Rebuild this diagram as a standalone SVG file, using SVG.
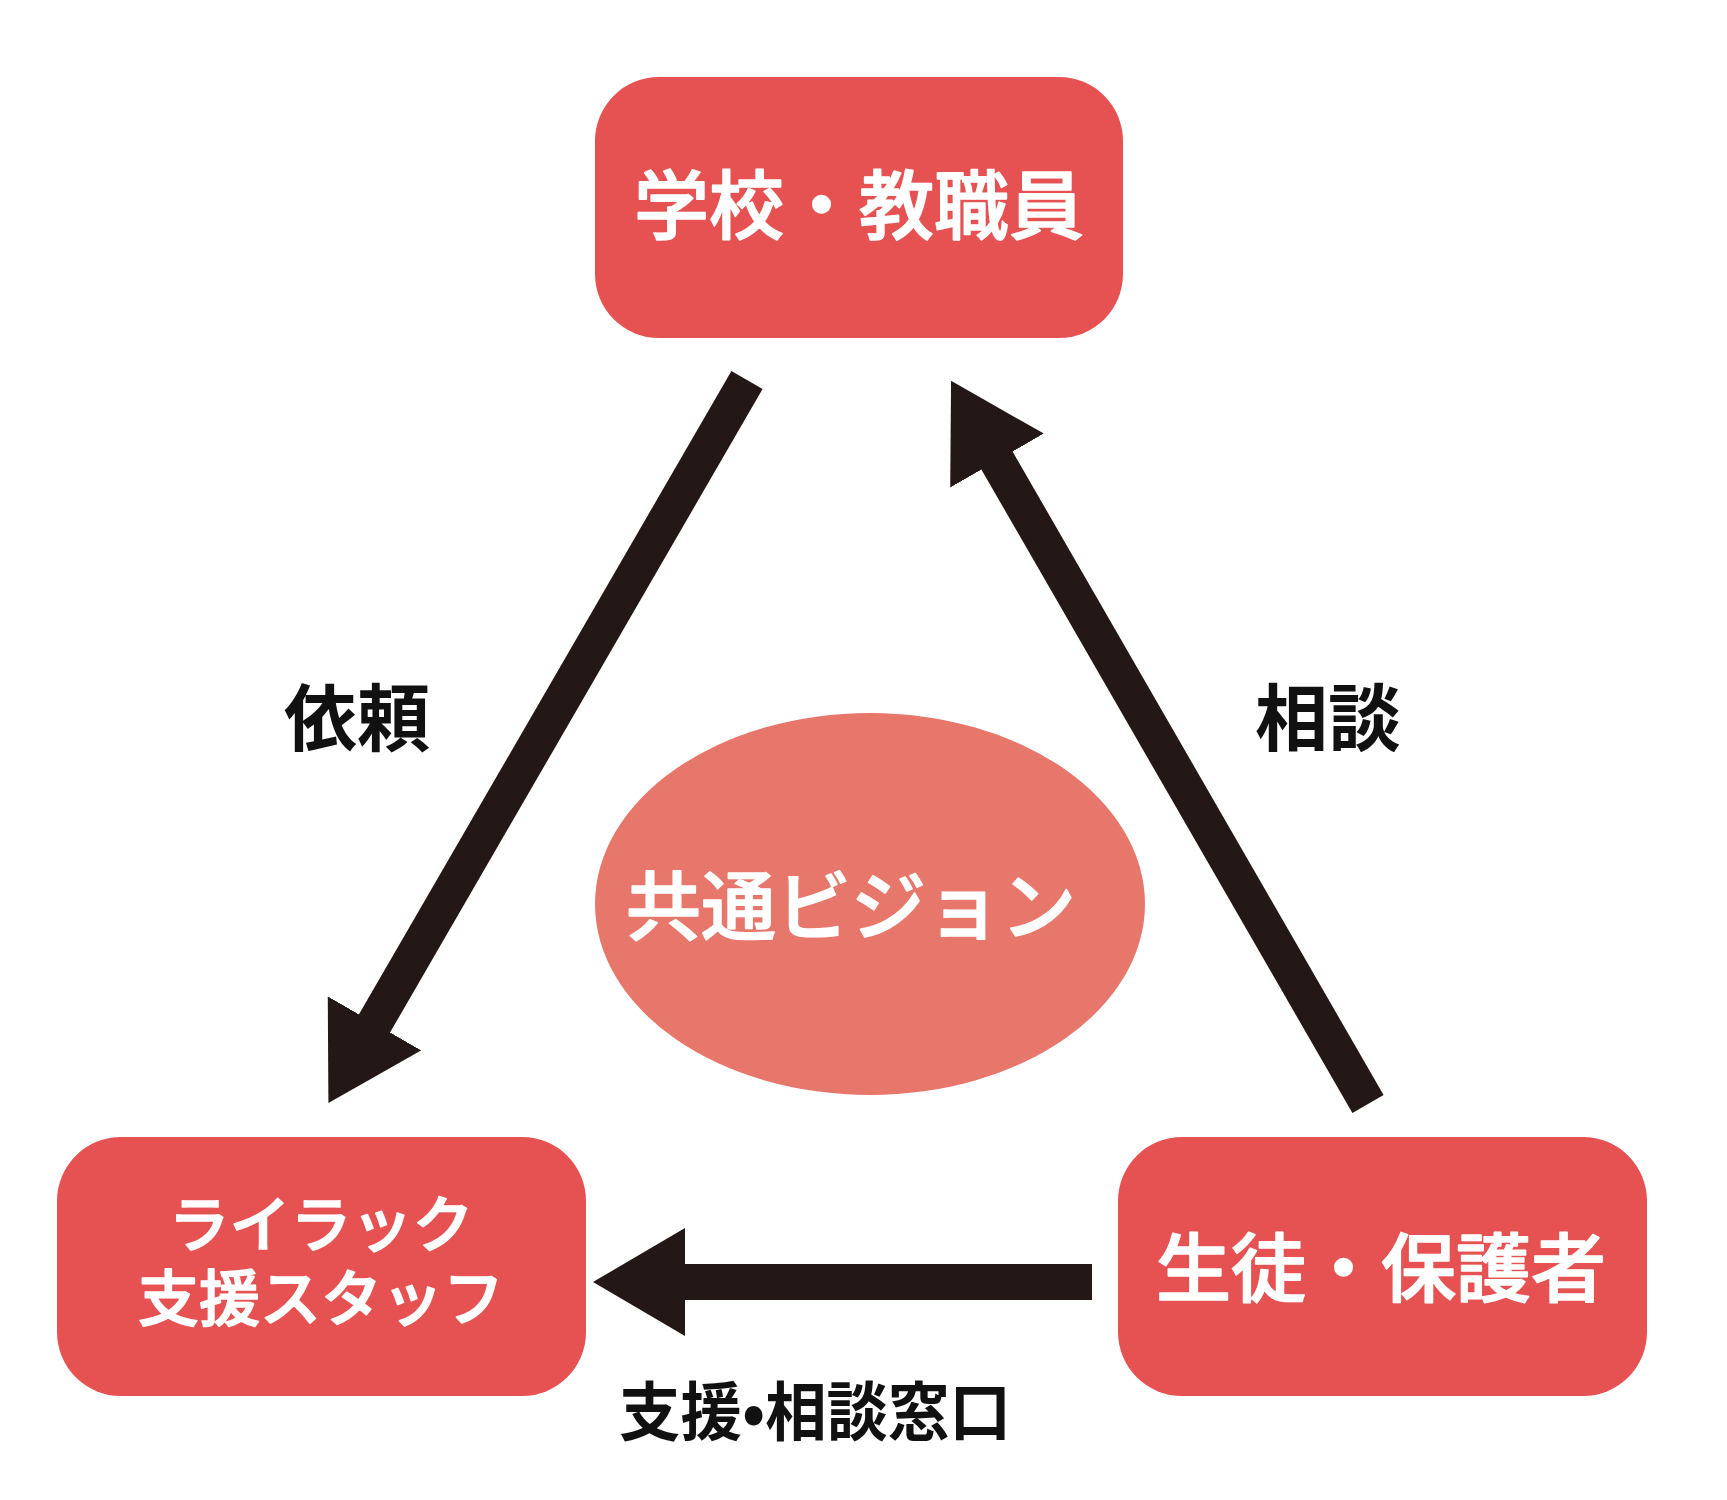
<svg xmlns="http://www.w3.org/2000/svg" width="1727" height="1500" viewBox="0 0 1727 1500">
  <defs>
    <style>
      .box { fill: #E65151; }
      .vision { fill: #E8776B; }
      .wt { fill: #FFFFFF; stroke: #FFFFFF; stroke-width: 1.6; stroke-linejoin: round; font-family: "Noto Sans CJK JP", "Noto Sans", sans-serif; font-weight: 500; text-anchor: middle; dominant-baseline: central; }
      .lbl { fill: #111111; font-family: "Noto Sans CJK JP", "Noto Sans", sans-serif; font-weight: 700; text-anchor: middle; dominant-baseline: central; }
      .conn { stroke: #231815; stroke-width: 36; fill: none; stroke-linecap: butt; }
    </style>
    <marker id="ah" markerUnits="userSpaceOnUse" viewBox="0 0 92 108" markerWidth="92" markerHeight="108" refX="1" refY="54" orient="auto">
      <path d="M0,0 L92,54 L0,108 Z" fill="#231815"/>
    </marker>
  </defs>
  <rect width="1727" height="1500" fill="#FFFFFF"/>

  <g id="connectors">
    <line class="conn" x1="747" y1="380" x2="374" y2="1024.3" marker-end="url(#ah)"/>
    <line class="conn" x1="1368" y1="1104" x2="996.5" y2="459.7" marker-end="url(#ah)"/>
    <line class="conn" x1="1092" y1="1282" x2="684" y2="1282" marker-end="url(#ah)"/>
    <text class="lbl" x="357" y="713" font-size="73">依頼</text>
    <text class="lbl" x="1328" y="713" font-size="73">相談</text>
    <text class="lbl" x="815" y="1407" font-size="64" textLength="392" lengthAdjust="spacingAndGlyphs">支援•相談窓口</text>
  </g>

  <g id="node-vision">
    <ellipse class="vision" cx="870" cy="904" rx="275" ry="191"/>
    <text class="wt" x="851" y="901" font-size="75">共通ビジョン</text>
  </g>

  <g id="node-school">
    <rect class="box" x="595" y="77" width="528" height="261" rx="64" ry="64"/>
    <text class="wt" x="859" y="200" font-size="75">学校・教職員</text>
  </g>

  <g id="node-staff">
    <rect class="box" x="57" y="1137" width="529" height="259" rx="64" ry="64"/>
    <text class="wt" font-size="61"><tspan x="321" y="1220">ライラック</tspan><tspan x="321" y="1294">支援スタッフ</tspan></text>
  </g>

  <g id="node-family">
    <rect class="box" x="1118" y="1137" width="529" height="259" rx="64" ry="64"/>
    <text class="wt" x="1381" y="1263" font-size="75">生徒・保護者</text>
  </g>
</svg>
